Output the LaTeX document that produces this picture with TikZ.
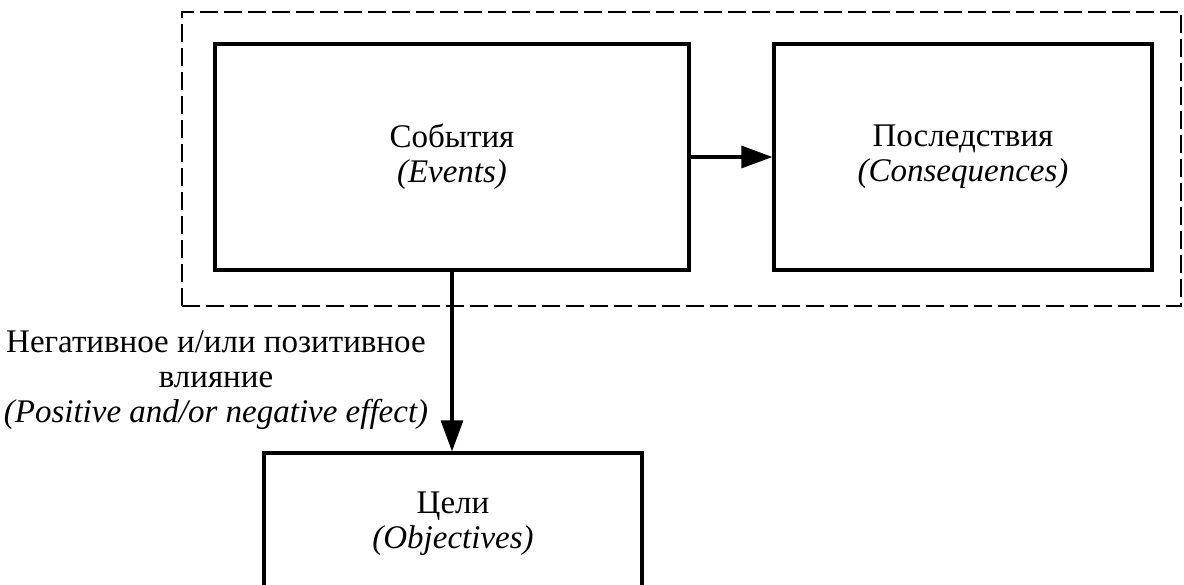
\documentclass[tikz,border=0pt]{standalone}
\usepackage{fontspec}
\setmainfont{Liberation Serif}
\usetikzlibrary{arrows.meta}
\begin{document}
\begin{tikzpicture}[x=1pt,y=-1pt,
  box/.style={draw, line width=3.2pt, align=center, inner sep=0pt,
    font=\fontsize{33}{35}\selectfont},
  grp/.style={draw, line width=1.6pt, dash pattern=on 18pt off 6pt, inner sep=0pt},
  arr/.style={line width=3.2pt, -{Triangle[length=31pt,width=22pt]}},
  lbl/.style={align=center, inner sep=0pt, font=\fontsize{33}{35}\selectfont}]
\useasboundingbox (0,0) rectangle (1184,585);
\clip (0,0) rectangle (1184,585);
\node[grp, minimum width=999pt, minimum height=294pt] (group) at (681.5,159) {};
\node[box, minimum width=474pt, minimum height=226pt] (events) at (452,157)
  {События\\\textit{(Events)}};
\node[box, minimum width=378pt, minimum height=226pt] (cons) at (963,157)
  {Последствия\\\textit{(Consequences)}};
\node[box, minimum width=378pt, minimum height=142pt] (obj) at (453,524)
  {Цели\\\textit{(Objectives)}};
\draw[arr] (events.east) -- (cons.west);
\draw[arr] (events.south) -- (events.south |- obj.north);
\node[lbl] (effect) at (216,380)
  {Негативное и/или позитивное\\влияние\\\textit{(Positive and/or negative effect)}};
\end{tikzpicture}
\end{document}
